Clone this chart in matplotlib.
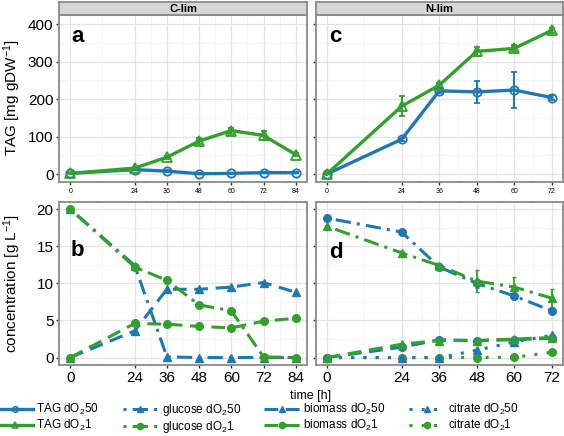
import numpy as np
import matplotlib
matplotlib.use("Agg")
import matplotlib.pyplot as plt
from matplotlib.lines import Line2D

plt.rcParams['font.family'] = ['Liberation Sans', 'DejaVu Sans']
plt.rcParams['mathtext.default'] = 'regular'

BLUE = '#1f78b4'
GREEN = '#33a02c'

# ---- data ----
t_c = [0, 24, 36, 48, 60, 72, 84]
t_n = [0, 24, 36, 48, 60, 72]

# TAG [mg gDW-1]
tag_c_50 = [2, 12, 8, 1, 2, 4, 4]
tag_c_50_err = [0, 2, 2, 1, 1, 1, 1]
tag_c_1 = [2, 16, 45, 88, 116, 103, 52]
tag_c_1_err = [0, 3, 4, 8, 8, 12, 4]
tag_n_50 = [0, 93, 222, 219, 224, 204]
tag_n_50_err = [0, 4, 6, 29, 49, 6]
tag_n_1 = [0, 181, 237, 327, 335, 383]
tag_n_1_err = [0, 27, 7, 12, 8, 6]

# concentrations [g L-1], C-lim (no citrate measured)
glc_c_50 = [20, 12.4, 0.1, 0, 0, 0, 0]
glc_c_1 = [20, 12.2, 10.4, 7.1, 6.3, 0.1, 0]
bio_c_50 = [0, 3.6, 9.2, 9.2, 9.5, 10.1, 8.8]
bio_c_1 = [0, 4.6, 4.5, 4.2, 4.0, 4.9, 5.3]

# concentrations [g L-1], N-lim
glc_n_50 = [18.8, 16.9, 12.2, 10.0, 8.3, 6.3]
glc_n_50_err = [0, 0, 0.3, 0.6, 0.4, 0.3]
glc_n_1 = [17.7, 14.1, 12.4, 10.3, 9.5, 8.0]
glc_n_1_err = [0, 0.3, 0.4, 1.5, 1.3, 1.2]
bio_n_50 = [0, 1.4, 2.4, 2.3, 2.4, 2.6]
bio_n_1 = [0, 1.8, 2.3, 2.3, 2.5, 2.7]
cit_n_50 = [0, 0, 0, 1.0, 2.1, 3.0]
cit_n_1 = [0, 0, 0, 0, 0.05, 0.7]

W, H = 564, 436
fig = plt.figure(figsize=(W / 100, H / 100), dpi=100, facecolor='white')


def box(l, t, r, b):
    return [l / W, 1 - b / H, (r - l) / W, (b - t) / H]


ax_a = fig.add_axes(box(59, 15, 307, 182))
ax_c = fig.add_axes(box(315.5, 15, 563, 182))
ax_b = fig.add_axes(box(59, 201.7, 307, 365))
ax_d = fig.add_axes(box(315.5, 201.7, 563, 365))

LW = 2.2
dash_glc = (1, 2, 5, 2)
dash_bio = (4.5, 2.5)
dash_cit = (1, 3)


def style(ax, ticks, ylim, yticks, yminor, big_x, show_y):
    span = ticks[-1] - ticks[0]
    ax.set_xlim(-0.05 * span, ticks[-1] + 0.05 * span)
    ax.set_ylim(*ylim)
    ax.set_xticks(ticks)
    minors = [(a + b) / 2 for a, b in zip(ticks[:-1], ticks[1:])]
    ax.set_xticks(minors, minor=True)
    ax.set_yticks(yticks)
    ax.set_yticks(yminor, minor=True)
    ax.grid(True, which='major', color='#e3e3e3', lw=0.9)
    ax.grid(True, which='minor', color='#f2f2f2', lw=0.6)
    ax.set_axisbelow(True)
    for s in ax.spines.values():
        s.set_color('#8a8a8a')
        s.set_linewidth(1.3)
    ax.tick_params(which='minor', length=0)
    ax.tick_params(which='major', length=2.5, width=1, color='#333333',
                   pad=1.5)
    ax.tick_params(axis='x', labelsize=11 if big_x else 5)
    ax.tick_params(axis='y', labelsize=11, labelleft=show_y)


# ---- TAG panels ----
for ax, t, y50, e50, y1, e1 in [(ax_a, t_c, tag_c_50, tag_c_50_err, tag_c_1, tag_c_1_err),
                                (ax_c, t_n, tag_n_50, tag_n_50_err, tag_n_1, tag_n_1_err)]:
    ax.errorbar(t, y50, yerr=e50, color=BLUE, lw=2.4, marker='o', ms=6,
                mfc='none', mew=1.3, capsize=2, elinewidth=1.5, capthick=1.3)
    ax.errorbar(t, y1, yerr=e1, color=GREEN, lw=2.4, marker='^', ms=7,
                mfc='none', mew=1.3, capsize=2, elinewidth=1.5, capthick=1.3)

style(ax_a, t_c, (-21, 424), [0, 100, 200, 300, 400], [50, 150, 250, 350], False, True)
style(ax_c, t_n, (-21, 424), [0, 100, 200, 300, 400], [50, 150, 250, 350], False, False)

# ---- concentration panels ----
# C-lim
ax_b.plot(t_c, glc_c_50, color=BLUE, lw=LW, dashes=dash_glc, marker='^', ms=6)
ax_b.plot(t_c, bio_c_50, color=BLUE, lw=LW, dashes=dash_bio, marker='^', ms=6)
ax_b.plot(t_c, glc_c_1, color=GREEN, lw=LW, dashes=dash_glc, marker='o', ms=5.5)
ax_b.plot(t_c, bio_c_1, color=GREEN, lw=LW, dashes=dash_bio, marker='o', ms=5.5)

# N-lim
ax_d.plot(t_n, cit_n_1, color=GREEN, lw=LW, dashes=dash_cit, marker='o', ms=5.5)
ax_d.plot(t_n, cit_n_50, color=BLUE, lw=LW, dashes=dash_cit, marker='^', ms=6)
ax_d.plot(t_n, bio_n_50, color=BLUE, lw=LW, dashes=dash_bio, marker='o', ms=5.5)
ax_d.plot(t_n, bio_n_1, color=GREEN, lw=LW, dashes=dash_bio, marker='^', ms=6)
ax_d.errorbar(t_n, glc_n_50, yerr=glc_n_50_err, color=BLUE, lw=LW, dashes=dash_glc,
              marker='o', ms=5.5, capsize=1.5, elinewidth=1.3)
ax_d.errorbar(t_n, glc_n_1, yerr=glc_n_1_err, color=GREEN, lw=LW, dashes=dash_glc,
              marker='^', ms=6, capsize=1.5, elinewidth=1.3)

style(ax_b, t_c, (-1, 21), [0, 5, 10, 15, 20], [2.5, 7.5, 12.5, 17.5], True, True)
style(ax_d, t_n, (-1, 21), [0, 5, 10, 15, 20], [2.5, 7.5, 12.5, 17.5], True, False)

# panel letters
for ax, letter, x, y in [(ax_a, 'a', 0.048, 0.87), (ax_c, 'c', 0.055, 0.87),
                         (ax_b, 'b', 0.048, 0.70), (ax_d, 'd', 0.055, 0.69)]:
    ax.text(x, y, letter, transform=ax.transAxes, fontsize=16,
            fontweight='bold', va='center', ha='left')

# strips
for l, r, label in [(59, 307, 'C-lim'), (315.5, 563, 'N-lim')]:
    s = fig.add_axes(box(l, 2, r, 15))
    s.set_facecolor('#d6d6d6')
    s.set_xticks([])
    s.set_yticks([])
    for sp in s.spines.values():
        sp.set_color('#8a8a8a')
        sp.set_linewidth(1.3)
    s.text(0.5, 0.45, label, transform=s.transAxes, ha='center', va='center',
           fontsize=8, fontweight='bold')

# axis labels
fig.text(12 / W, 1 - 98 / H, 'TAG [mg gDW$^{-1}$]', rotation=90,
         ha='center', va='center', fontsize=11)
fig.text(12 / W, 1 - 283 / H, 'concentration [g L$^{-1}$]', rotation=90,
         ha='center', va='center', fontsize=11)
fig.text(311 / W, 1 - 396 / H, 'time [h]', ha='center', va='center', fontsize=9)

# legend
handles = [
    Line2D([], [], color=BLUE, lw=2.4, marker='o', ms=4, mfc='none', mew=1.2),
    Line2D([], [], color=GREEN, lw=2.4, marker='^', ms=5, mfc='none', mew=1.2),
    Line2D([], [], color=BLUE, lw=LW, dashes=dash_glc, marker='^', ms=5),
    Line2D([], [], color=GREEN, lw=LW, dashes=dash_glc, marker='o', ms=4.5),
    Line2D([], [], color=BLUE, lw=LW, dashes=dash_bio, marker='^', ms=5),
    Line2D([], [], color=GREEN, lw=LW, dashes=dash_bio, marker='o', ms=4.5),
    Line2D([], [], color=BLUE, lw=LW, dashes=dash_cit, marker='^', ms=5),
    Line2D([], [], color=GREEN, lw=LW, dashes=dash_cit, marker='o', ms=4.5),
]
labels = ['TAG dO$_2$50', 'TAG dO$_2$1',
          'glucose dO$_2$50', 'glucose dO$_2$1',
          'biomass dO$_2$50', 'biomass dO$_2$1',
          'citrate dO$_2$50', 'citrate dO$_2$1']
fig.legend(handles, labels, ncol=4, loc='upper left',
           bbox_to_anchor=(-0.005, 1 - 402 / H), frameon=False, fontsize=8.5,
           handlelength=3.0, handletextpad=0.3, columnspacing=2.0,
           labelspacing=0.1, borderpad=0, borderaxespad=0)

fig.savefig('out.png', dpi=100, facecolor='white')
